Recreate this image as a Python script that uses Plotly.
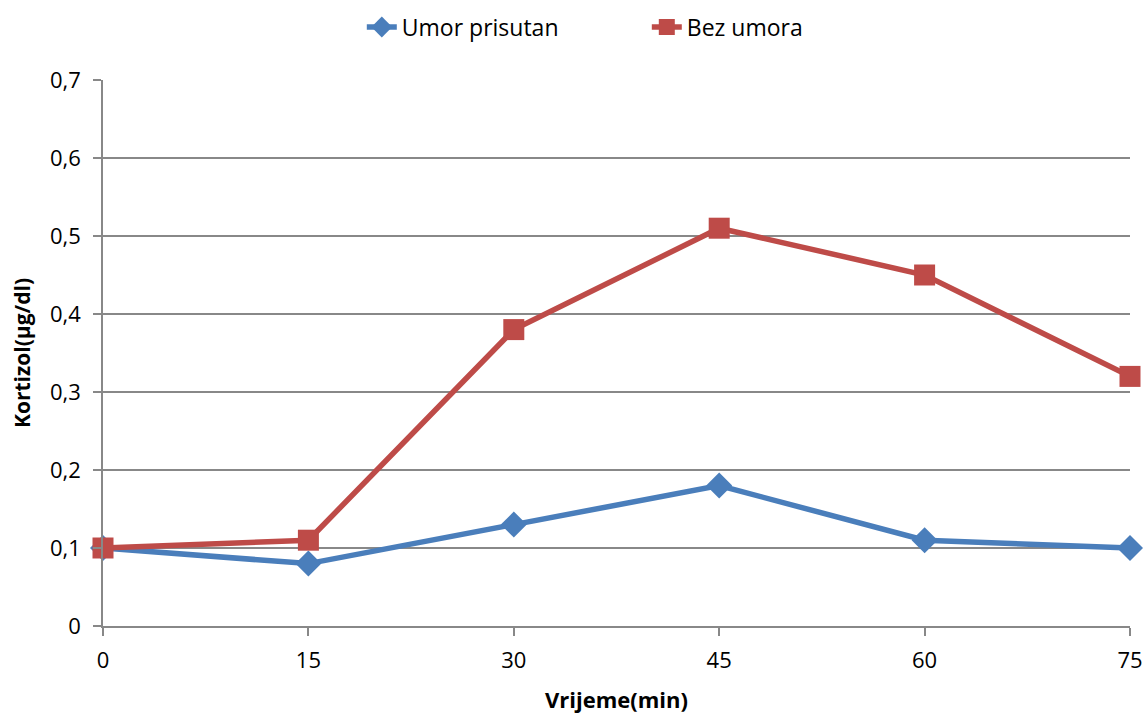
import plotly.graph_objects as go

vrijeme = [0, 15, 30, 45, 60, 75]
umor_prisutan = [0.10, 0.08, 0.13, 0.18, 0.11, 0.10]
bez_umora = [0.10, 0.11, 0.38, 0.51, 0.45, 0.32]
y_ticks = [0, 0.1, 0.2, 0.3, 0.4, 0.5, 0.6, 0.7]
y_labels = ["0", "0,1", "0,2", "0,3", "0,4", "0,5", "0,6", "0,7"]

fig = go.Figure()
fig.add_trace(go.Scatter(x=vrijeme, y=umor_prisutan, name="Umor prisutan", mode="lines+markers",
                         line=dict(color="#4A7EBB", width=5.5),
                         marker=dict(symbol="diamond", size=20, color="#4A7EBB"),
                         cliponaxis=False))
fig.add_trace(go.Scatter(x=vrijeme, y=bez_umora, name="Bez umora", mode="lines+markers",
                         line=dict(color="#BE4B48", width=5.5),
                         marker=dict(symbol="square", size=21, color="#BE4B48"),
                         cliponaxis=False))

font_family = "Open Sans, Liberation Sans, sans-serif"
fig.update_layout(
    width=1146, height=714,
    margin=dict(l=103, r=16, t=80, b=88, autoexpand=False),
    paper_bgcolor="white", plot_bgcolor="white",
    font=dict(family=font_family, size=22, color="black"),
    legend=dict(orientation="h", x=0.252, xanchor="left", y=1.097, yanchor="middle",
                font=dict(size=23), traceorder="normal", entrywidth=240, entrywidthmode="pixels"),
    showlegend=True,
)
fig.update_xaxes(range=[0, 75], tickvals=vrijeme, ticktext=[str(v) for v in vrijeme],
                 showgrid=False, showline=True, linecolor="#888888", linewidth=1.5,
                 ticks="outside", ticklen=8, tickcolor="#888888", tickwidth=1.5,
                 ticklabelstandoff=6,
                 zeroline=False, tickfont=dict(size=22), automargin=False,
                 title=dict(text="<b>Vrijeme(min)</b>", font=dict(size=22), standoff=20))
fig.update_yaxes(range=[0, 0.7], tickvals=y_ticks, ticktext=y_labels,
                 showgrid=True, gridcolor="#888888", gridwidth=1.5,
                 showline=True, linecolor="#888888", linewidth=1.5,
                 ticks="outside", ticklen=8, tickcolor="#888888", tickwidth=1.5,
                 ticklabelstandoff=8,
                 zeroline=False, tickfont=dict(size=22), automargin=False,
                 title=dict(text="<b>Kortizol(µg/dl)</b>", font=dict(size=21), standoff=14))

fig.write_html("out.html", config={"displayModeBar": False},
               post_script="document.body.style.margin='0';document.body.style.overflow='hidden';")
